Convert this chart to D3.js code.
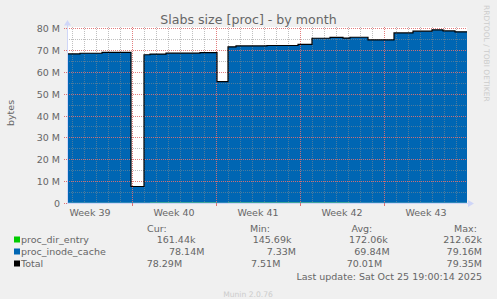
<!DOCTYPE html>
<html>
  <head>
    <title>Slabs size [proc] - by month</title>
    <script src="https://cdnjs.cloudflare.com/ajax/libs/d3/7.8.5/d3.min.js"></script>
    <style>
      body { margin: 0; background: #f0f0f0; }
      text { font-family: "DejaVu Sans", sans-serif; }
    </style>
  </head>
  <body>
    <script type="text/javascript">

    // data (step points, local time)
    let times = [
      "2025-09-23 14:00", "2025-09-24 16:00", "2025-09-26 12:00", "2025-09-28 22:00",
      "2025-09-30 00:00", "2025-09-30 12:00", "2025-10-01 20:00", "2025-10-04 16:00",
      "2025-10-06 02:00", "2025-10-07 00:00", "2025-10-07 16:00", "2025-10-10 06:00",
      "2025-10-12 20:00", "2025-10-14 00:00", "2025-10-15 12:00", "2025-10-16 14:00",
      "2025-10-17 04:00", "2025-10-18 16:00", "2025-10-20 20:00", "2025-10-22 10:00",
      "2025-10-24 00:00", "2025-10-24 22:00", "2025-10-25 22:00", "2025-10-26 22:00"
    ]
    let inodeCache = [   // proc_inode_cache, M bytes
      68.0, 68.3, 68.7, 7.4,
      67.6, 67.9, 68.3, 68.6,
      55.3, 71.2, 71.6, 71.8,
      72.3, 75.1, 75.5, 75.2,
      75.6, 74.4, 77.6, 78.4,
      79.0, 78.5, 78.1, 78.1
    ]
    let dirEntry = [     // proc_dir_entry, k bytes
      150, 155, 160, 146,
      170, 175, 180, 185,
      170, 190, 195, 200,
      205, 212, 180, 175,
      170, 165, 160, 165,
      160, 162, 161, 161
    ]

    let yTicks = [0, 10, 20, 30, 40, 50, 60, 70, 80]
    let yTickLabels = ["0", "10 M", "20 M", "30 M", "40 M", "50 M", "60 M", "70 M", "80 M"]

    let legendNames = ["proc_dir_entry", "proc_inode_cache", "Total"]
    let legendColors = ["#00cc00", "#0066b3", "#000000"]
    let legendHeads = ["Cur:", "Min:", "Avg:", "Max:"]
    let legendCur = ["161.44k", "78.14M", "78.29M"]
    let legendMin = ["145.69k", "7.33M", "7.51M"]
    let legendAvg = ["172.06k", "69.84M", "70.01M"]
    let legendMax = ["212.62k", "79.16M", "79.35M"]

    let outerWidth = 497;
    let outerHeight = 299;
    let plotLeft = 67, plotRight = 467, plotTop = 28, plotBottom = 203;

    let parseTime = d3.timeParse("%Y-%m-%d %H:%M");
    let data = times.map(function (t, i) {
      let de = dirEntry[i] / 1000;
      return { t: parseTime(t), de: de, ic: inodeCache[i], total: de + inodeCache[i] };
    });

    let svg = d3.select("body").append("svg")
      .attr("width", outerWidth)
      .attr("height", outerHeight);

    svg.append("rect").attr("width", outerWidth).attr("height", outerHeight).attr("fill", "#f0f0f0");

    let xScale = d3.scaleTime()
      .domain([parseTime("2025-09-23 14:00"), parseTime("2025-10-27 00:00")])
      .range([plotLeft, plotLeft + 33.4167 * 12]);
    let yScale = d3.scaleLinear().domain([0, 80]).range([plotBottom, plotTop]);

    // canvas
    svg.append("rect")
      .attr("x", plotLeft).attr("y", plotTop - 1)
      .attr("width", plotRight - plotLeft).attr("height", plotBottom - plotTop + 1)
      .attr("fill", "#ffffff");

    let areaDir = d3.area().curve(d3.curveStepAfter)
      .x(function (d) { return xScale(d.t); })
      .y0(function (d) { return yScale(0); })
      .y1(function (d) { return yScale(d.de); });
    let areaInode = d3.area().curve(d3.curveStepAfter)
      .x(function (d) { return xScale(d.t); })
      .y0(function (d) { return yScale(d.de); })
      .y1(function (d) { return yScale(d.total); });
    let lineTotal = d3.line().curve(d3.curveStepAfter)
      .x(function (d) { return xScale(d.t); })
      .y(function (d) { return yScale(d.total); });

    svg.append("path").attr("d", areaDir(data)).attr("fill", legendColors[0]);
    svg.append("path").attr("d", areaInode(data)).attr("fill", legendColors[1]);

    // grid on top of the data, like rrdtool
    let grid = svg.append("g");
    let days = d3.timeDay.range(xScale.domain()[0], xScale.domain()[1]);
    days.forEach(function (d) {
      let x = Math.round(xScale(d)) + 0.5;
      let major = d3.timeMonday.floor(d).getTime() === d.getTime();
      grid.append("line")
        .attr("x1", x).attr("x2", x).attr("y1", plotTop - 1).attr("y2", plotBottom)
        .attr("stroke", major ? "#e07070" : "#8c8c8c")
        .attr("stroke-opacity", major ? 0.9 : 0.55)
        .attr("stroke-dasharray", "1,1");
    });
    d3.range(5, 81, 5).forEach(function (v) {
      let y = Math.round(yScale(v)) + 0.5;
      let major = v % 10 === 0;
      grid.append("line")
        .attr("x1", plotLeft).attr("x2", plotRight).attr("y1", y).attr("y2", y)
        .attr("stroke", major ? "#e07070" : "#8c8c8c")
        .attr("stroke-opacity", major ? 0.9 : 0.55)
        .attr("stroke-dasharray", "1,1");
    });

    svg.append("path").attr("d", lineTotal(data))
      .attr("fill", "none").attr("stroke", "#000").attr("stroke-width", 1.2);

    // axes
    let axisColor = "#cfd6f8";
    svg.append("line").attr("x1", plotLeft + 0.5).attr("x2", plotLeft + 0.5).attr("y1", 24).attr("y2", plotBottom)
      .attr("stroke", axisColor);
    svg.append("line").attr("x1", plotLeft).attr("x2", plotRight + 3).attr("y1", plotBottom + 0.5).attr("y2", plotBottom + 0.5)
      .attr("stroke", axisColor);
    svg.append("path").attr("d", "M64,25.5L67.5,20L71,25.5Z").attr("fill", axisColor);
    svg.append("path").attr("d", "M468,200L474,203.5L468,207Z").attr("fill", axisColor);

    yTicks.forEach(function (v, i) {
      let y = Math.round(yScale(v)) + 0.5;
      svg.append("line").attr("x1", plotLeft - 3).attr("x2", plotLeft).attr("y1", y).attr("y2", y)
        .attr("stroke", "#e07070").attr("stroke-dasharray", "1,1");
      svg.append("text")
        .attr("x", 60).attr("y", y + 3.5)
        .attr("text-anchor", "end")
        .attr("font-size", "9.5px").attr("fill", "#666")
        .text(yTickLabels[i]);
    });

    let weeks = d3.timeMonday.range(d3.timeMonday.floor(xScale.domain()[0]), xScale.domain()[1]);
    weeks.forEach(function (w) {
      let xb = Math.round(xScale(w)) + 0.5;
      if (xb > plotLeft + 1) {
        svg.append("line").attr("x1", xb).attr("x2", xb).attr("y1", plotBottom).attr("y2", plotBottom + 3)
          .attr("stroke", "#e07070");
      }
      let mid = xScale(d3.timeHour.offset(w, 84));
      svg.append("text")
        .attr("x", mid).attr("y", 216)
        .attr("text-anchor", "middle")
        .attr("font-size", "9.5px").attr("fill", "#666")
        .text("Week " + d3.timeFormat("%V")(w));
    });

    // title, axis label, watermark
    svg.append("text").attr("x", 248.5).attr("y", 24)
      .attr("text-anchor", "middle").attr("font-size", "12.6px").attr("fill", "#666")
      .text("Slabs size [proc] - by month");
    svg.append("text").attr("transform", "translate(14,113) rotate(-90)")
      .attr("text-anchor", "middle").attr("font-size", "9.5px").attr("fill", "#666")
      .text("bytes");
    svg.append("text").attr("transform", "translate(484,5) rotate(90)")
      .attr("text-anchor", "start").attr("font-size", "7.5px").attr("fill", "#cccccc")
      .text("RRDTOOL / TOBI OETIKER");

    // legend
    let legend = svg.append("g").attr("font-size", "9.5px").attr("fill", "#666");
    let headX = [147, 250, 351.5, 454];
    legendHeads.forEach(function (h, i) {
      legend.append("text").attr("x", headX[i]).attr("y", 231.5).text(h);
    });
    let curX = [156.7, 169, 146.7];
    let minX = [252.7, 266.7, 251];
    let avgX = [349, 354.3, 346.7];
    legendNames.forEach(function (n, i) {
      let yb = 243 + i * 12;
      legend.append("rect").attr("x", 14).attr("y", yb - 6.5).attr("width", 6).attr("height", 6)
        .attr("fill", legendColors[i]);
      legend.append("text").attr("x", 21).attr("y", yb).text(n);
      legend.append("text").attr("x", curX[i]).attr("y", yb).text(legendCur[i]);
      legend.append("text").attr("x", minX[i]).attr("y", yb).text(legendMin[i]);
      legend.append("text").attr("x", avgX[i]).attr("y", yb).text(legendAvg[i]);
      legend.append("text").attr("x", 482).attr("y", yb).attr("text-anchor", "end").text(legendMax[i]);
    });
    legend.append("text").attr("x", 482).attr("y", 279.5).attr("text-anchor", "end")
      .text("Last update: Sat Oct 25 19:00:14 2025");

    svg.append("text").attr("x", 248).attr("y", 297)
      .attr("text-anchor", "middle").attr("font-size", "7.6px").attr("fill", "#cccccc")
      .text("Munin 2.0.76");

    </script>
  </body>
</html>
